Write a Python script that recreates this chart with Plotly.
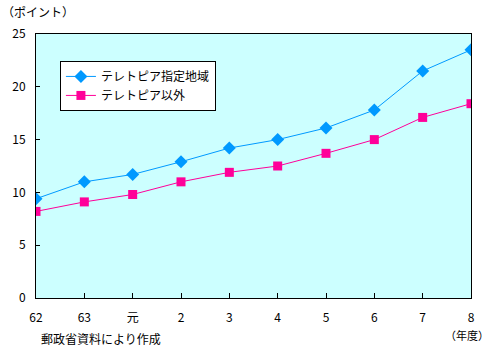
import plotly.graph_objects as go

# Fiscal years (Showa 62, 63, Heisei 元 ... 8)
years = ["62", "63", "元", "2", "3", "4", "5", "6", "7", "8"]
teletopia_areas = [9.4, 11.0, 11.7, 12.9, 14.2, 15.0, 16.1, 17.8, 21.5, 23.5]
other_areas = [8.2, 9.1, 9.8, 11.0, 11.9, 12.5, 13.7, 15.0, 17.1, 18.4]
y_ticks = [0, 5, 10, 15, 20, 25]

FONT = "Noto Sans CJK JP"

fig = go.Figure()
fig.add_trace(go.Scatter(
    x=years, y=teletopia_areas, mode="lines+markers", name="テレトピア指定地域",
    line=dict(color="#0099FF", width=1),
    marker=dict(symbol="diamond", size=10, color="#0099FF"),
))
fig.add_trace(go.Scatter(
    x=years, y=other_areas, mode="lines+markers", name="テレトピア以外",
    line=dict(color="#FF0099", width=1),
    marker=dict(symbol="square", size=9, color="#FF0099"),
))

fig.update_layout(
    width=492, height=347,
    margin=dict(l=36, r=21, t=34, b=49),
    paper_bgcolor="white",
    plot_bgcolor="#CCFFFF",
    font=dict(family=FONT, size=12, color="black"),
    showlegend=True,
    legend=dict(
        x=0.055, y=0.898, xanchor="left", yanchor="top",
        bgcolor="white", bordercolor="black", borderwidth=1,
        font=dict(family=FONT, size=12),
        tracegroupgap=2, itemwidth=30,
    ),
    xaxis=dict(
        type="category", range=[0, 9], showgrid=False,
        showline=True, linecolor="black", linewidth=1, mirror=True,
        ticks="inside", ticklen=5, tickcolor="black",
        tickfont=dict(family=FONT, size=12),
        ticklabelstandoff=9,
        zeroline=False,
    ),
    yaxis=dict(
        range=[0, 25], tickvals=y_ticks, showgrid=False,
        showline=True, linecolor="black", linewidth=1, mirror=True,
        ticks="inside", ticklen=4, tickcolor="black",
        tickfont=dict(family=FONT, size=12),
        ticklabelstandoff=7,
        zeroline=False,
    ),
    annotations=[
        dict(text="（ポイント）", x=0, y=1, xref="paper", yref="paper",
             xshift=-36, yshift=12, xanchor="left", yanchor="bottom",
             showarrow=False, font=dict(family=FONT, size=12)),
        dict(text="（年度）", x=1, y=0, xref="paper", yref="paper",
             xshift=20, yshift=-27, xanchor="right", yanchor="top",
             showarrow=False, font=dict(family=FONT, size=11)),
        dict(text="郵政省資料により作成", x=0, y=0, xref="paper", yref="paper",
             xshift=3, yshift=-30, xanchor="left", yanchor="top",
             showarrow=False, font=dict(family=FONT, size=12)),
    ],
)

fig.write_html("out.html")
